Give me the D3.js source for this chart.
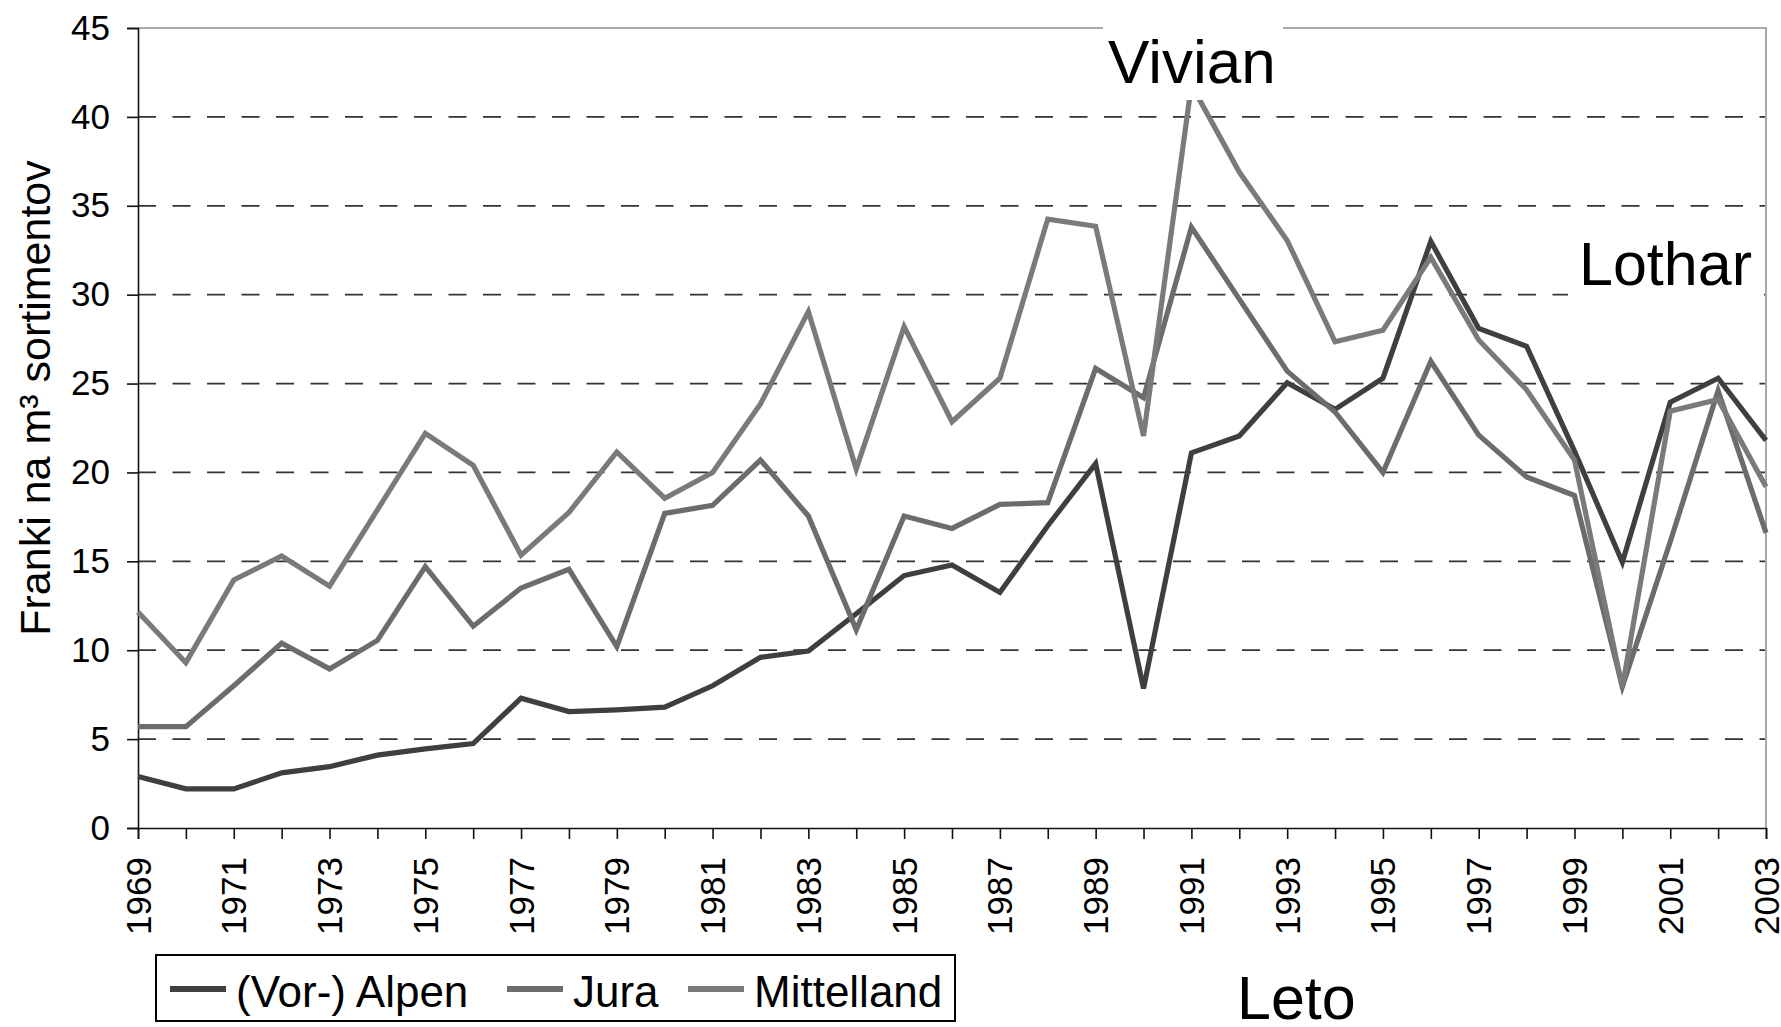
<!DOCTYPE html>
<html>
<head>
<meta charset="utf-8">
<script src="https://cdn.jsdelivr.net/npm/d3@7"></script>
<style>
  body { margin: 0; background: #fff; }
  text { font-family: "Liberation Sans", Arial, sans-serif; fill: #000; }
</style>
</head>
<body>
<div id="chart"></div>
<script>
// data
const years = d3.range(1969, 2004);
const yTicks = [0, 5, 10, 15, 20, 25, 30, 35, 40, 45];
const xLabels = d3.range(1969, 2004, 2);

const alpen = [2.9, 2.2, 2.2, 3.1, 3.45, 4.1, 4.45, 4.75, 7.3, 6.55, 6.65, 6.8, 8.0, 9.6, 9.95, 12.05, 14.2, 14.8, 13.25, 17.0, 20.5, 7.85, 21.1, 22.05, 25.05, 23.55, 25.3, 33.0, 28.1, 27.1, 21.2, 14.95, 23.95, 25.3, 21.8];
const jura = [5.7, 5.7, 8.0, 10.4, 8.95, 10.55, 14.7, 11.35, 13.5, 14.55, 10.2, 17.7, 18.15, 20.7, 17.55, 11.15, 17.55, 16.85, 18.2, 18.3, 25.85, 24.2, 33.8, 29.75, 25.7, 23.4, 20.0, 26.25, 22.1, 19.75, 18.7, 7.95, 16.1, 24.6, 16.6];
const mittelland = [12.15, 9.3, 13.95, 15.3, 13.6, 17.9, 22.2, 20.4, 15.35, 17.75, 21.15, 18.55, 20.0, 23.85, 29.05, 20.2, 28.2, 22.85, 25.3, 34.25, 33.85, 22.05, 41.8, 36.9, 33.05, 27.35, 28.0, 32.1, 27.45, 24.65, 20.7, 7.9, 23.45, 24.1, 19.2];

const seriesNames = ["(Vor-) Alpen", "Jura", "Mittelland"];
const seriesColors = ["#3f3f3f", "#6c6c6c", "#7a7a7a"];

const series = [alpen, jura, mittelland].map((vals, i) => ({
  name: seriesNames[i],
  color: seriesColors[i],
  values: vals.map((v, j) => ({ year: years[j], value: v })),
}));

const width = 1781, height = 1027;
const plot = { left: 138, right: 1766, top: 28, bottom: 828 };

const svg = d3
  .select("#chart")
  .append("svg")
  .attr("width", width)
  .attr("height", height);

const x = d3.scaleLinear().domain([1969, 2003]).range([plot.left, plot.right]);
const y = d3.scaleLinear().domain([0, 45]).range([plot.bottom, plot.top]);

// dashed gridlines
svg
  .append("g")
  .selectAll("line")
  .data(yTicks.filter((t) => t > 0 && t < 45))
  .join("line")
  .attr("x1", plot.left)
  .attr("x2", plot.right)
  .attr("y1", (d) => y(d))
  .attr("y2", (d) => y(d))
  .attr("stroke", "#333")
  .attr("stroke-width", 1.8)
  .attr("stroke-dasharray", "18,16.5");

// top and right border (light gray)
svg
  .append("path")
  .attr("d", `M${plot.left},${y(45)}H${plot.right}V${plot.bottom}`)
  .attr("fill", "none")
  .attr("stroke", "#a8a8a8")
  .attr("stroke-width", 2);

// Y axis
const yAxis = svg
  .append("g")
  .attr("transform", `translate(${plot.left},0)`)
  .call(d3.axisLeft(y).tickValues(yTicks).tickSize(11).tickPadding(17));
yAxis.select(".domain").attr("stroke", "#111").attr("stroke-width", 1.6);
yAxis.selectAll(".tick line").attr("stroke", "#111").attr("stroke-width", 1.6);
yAxis
  .selectAll(".tick text")
  .attr("font-size", 35)
  .attr("font-family", "Liberation Sans, Arial, sans-serif")
  .attr("fill", "#111");

// X axis: a tick every year, a label every second year
const xAxis = svg
  .append("g")
  .attr("transform", `translate(0,${plot.bottom})`)
  .call(d3.axisBottom(x).tickValues(years).tickSize(11).tickFormat(""));
xAxis.select(".domain").attr("stroke", "#111").attr("stroke-width", 1.6);
xAxis.selectAll(".tick line").attr("stroke", "#111").attr("stroke-width", 1.6);

svg
  .append("g")
  .selectAll("text")
  .data(xLabels)
  .join("text")
  .attr("transform", (d) => `translate(${x(d)},${plot.bottom + 29}) rotate(-90)`)
  .attr("dy", "0.358em")
  .attr("text-anchor", "end")
  .attr("font-size", 35)
  .attr("fill", "#111")
  .text((d) => d);

// lines
const line = d3
  .line()
  .x((d) => x(d.year))
  .y((d) => y(d.value));

svg
  .append("g")
  .selectAll("path")
  .data(series)
  .join("path")
  .attr("d", (d) => line(d.values))
  .attr("fill", "none")
  .attr("stroke", (d) => d.color)
  .attr("stroke-width", 5.2)
  .attr("stroke-linejoin", "miter");

// storm labels with white boxes behind them
svg.append("rect").attr("x", 1103).attr("y", 0).attr("width", 180).attr("height", 100).attr("fill", "#fff");
svg.append("text").attr("x", 1108).attr("y", 83).attr("font-size", 62).text("Vivian");

svg.append("rect").attr("x", 1568).attr("y", 228).attr("width", 196).attr("height", 72).attr("fill", "#fff");
svg.append("text").attr("x", 1579).attr("y", 285).attr("font-size", 61).text("Lothar");

// axis titles
svg
  .append("text")
  .attr("transform", "translate(50,398) rotate(-90)")
  .attr("text-anchor", "middle")
  .attr("font-size", 43)
  .text("Franki na m³ sortimentov");

svg.append("text").attr("x", 1237).attr("y", 1019).attr("font-size", 61).text("Leto");

// legend
const legend = svg.append("g");
legend
  .append("rect")
  .attr("x", 156)
  .attr("y", 955)
  .attr("width", 799)
  .attr("height", 66)
  .attr("fill", "#fff")
  .attr("stroke", "#000")
  .attr("stroke-width", 2);

const legendX = [170, 507, 688];
series.forEach((s, i) => {
  legend
    .append("line")
    .attr("x1", legendX[i])
    .attr("x2", legendX[i] + 56)
    .attr("y1", 989)
    .attr("y2", 989)
    .attr("stroke", s.color)
    .attr("stroke-width", 6);
  legend
    .append("text")
    .attr("x", legendX[i] + 66)
    .attr("y", 1007)
    .attr("font-size", 44)
    .text(s.name);
});
</script>
</body>
</html>
